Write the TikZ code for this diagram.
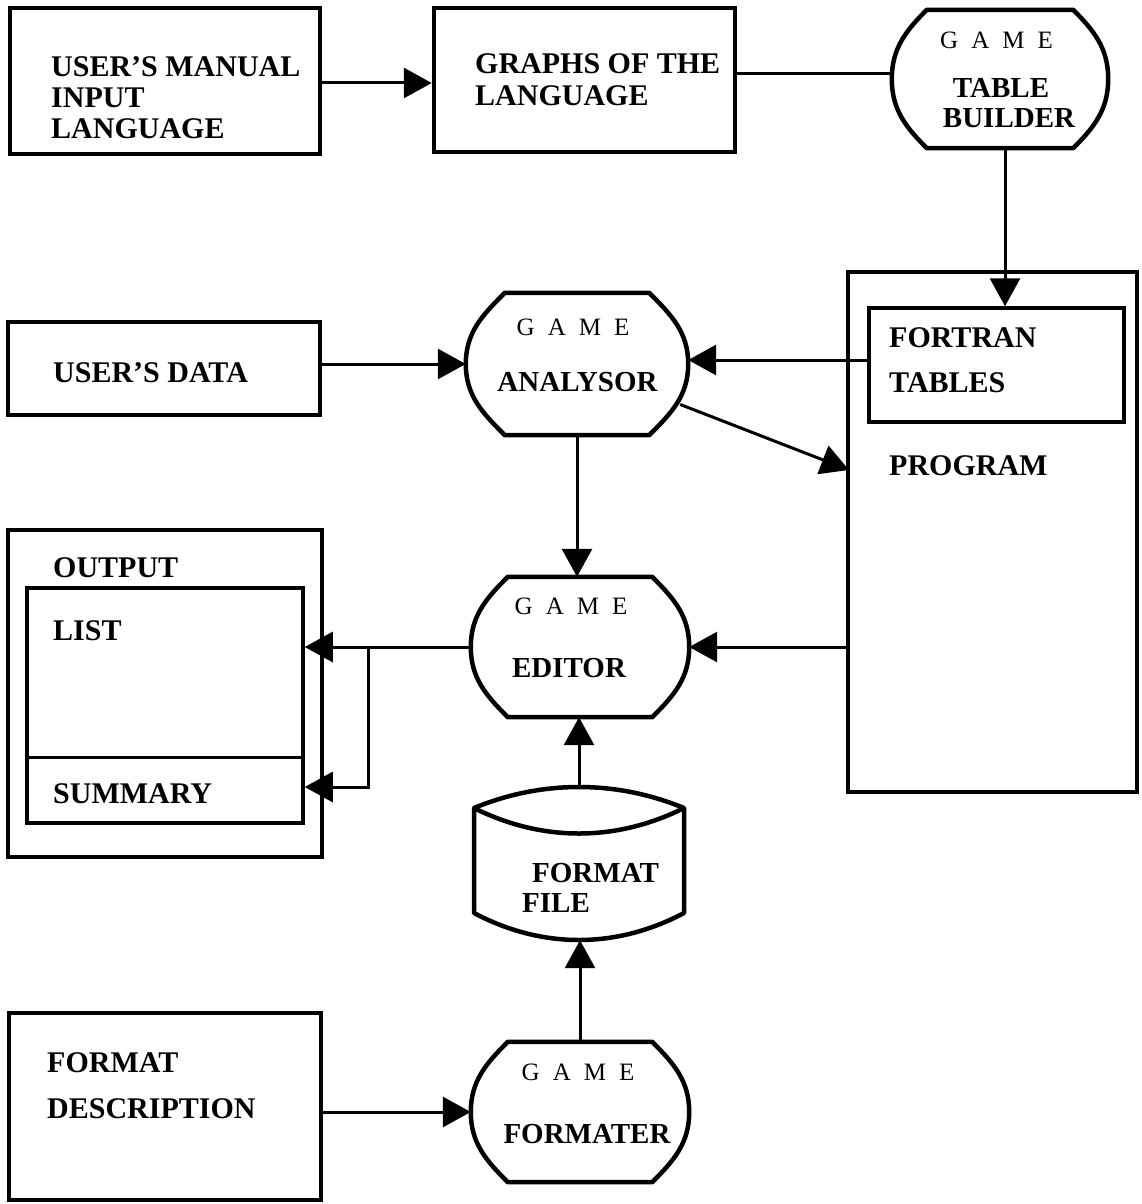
\documentclass[tikz,border=0pt]{standalone}
\usepackage{fontspec}
\setmainfont{Liberation Serif}
\usetikzlibrary{arrows.meta,calc}
\tikzset{
  boxnode/.style={draw, line width=4.5pt, inner sep=0pt},
  thinbox/.style={draw, line width=3.5pt, inner sep=0pt},
  ghost/.style={inner sep=0pt},
  lbl/.style={anchor=west, inner sep=0pt, font=\fontsize{30}{30}\selectfont\bfseries, text height=20pt, text depth=0pt},
  slbl/.style={anchor=center, inner sep=0pt, font=\fontsize{29}{29}\selectfont\bfseries, text height=19pt, text depth=0pt},
  gm/.style={anchor=center, inner sep=0pt, font=\fontsize{25}{25}\selectfont, text height=16.5pt, text depth=0pt},
  conn/.style={line width=3pt},
  arr/.style={line width=3pt, -{Triangle[length=28pt,width=30pt]}},
  outl/.style={line width=4.5pt, line join=round},
  thinline/.style={line width=3pt},
}
\newcommand\gameoutline[2]{%
  \draw[outl] ($(#1.north west)+(#2,0)$) -- ($(#1.north east)+(-#2,0)$)
    to[out=-45,in=90] (#1.east)
    to[out=-90,in=45] ($(#1.south east)+(-#2,0)$)
    -- ($(#1.south west)+(#2,0)$)
    to[out=135,in=-90] (#1.west)
    to[out=90,in=-135] ($(#1.north west)+(#2,0)$) -- cycle;}
\newcommand\gamespaced{G\hspace{13pt}A\hspace{13pt}M\hspace{13pt}E}
\begin{document}
\begin{tikzpicture}[x=1pt,y=1pt]
\useasboundingbox (0,0) rectangle (1141,-1204);

% ---- nodes ----
\node[boxnode, minimum width=310, minimum height=146] (b1) at (165,-81) {};
\node[boxnode, minimum width=301, minimum height=144] (b2) at (584.5,-80) {};
\node[ghost, minimum width=216, minimum height=138] (tb) at (1000,-79) {};
\node[boxnode, minimum width=312, minimum height=93] (ud) at (164,-368.5) {};
\node[ghost, minimum width=222, minimum height=142] (ana) at (577,-364) {};
\node[boxnode, minimum width=289, minimum height=520] (prog) at (992.5,-532) {};
\node[thinbox, minimum width=255, minimum height=114] (ft) at (996.5,-365) {};
\node[boxnode, minimum width=314, minimum height=327] (out) at (165,-693.5) {};
\node[thinbox, minimum width=276, minimum height=235] (inr) at (165,-705.5) {};
\node[ghost, minimum width=218, minimum height=140] (ed) at (580,-647) {};
\node[ghost, minimum width=210, minimum height=153] (cyl) at (579,-863.5) {};
\node[boxnode, minimum width=312, minimum height=187] (fd) at (165,-1106.5) {};
\node[ghost, minimum width=218, minimum height=140] (fmt) at (580,-1112) {};

% ---- shapes ----
\gameoutline{tb}{35}
\gameoutline{ana}{39}
\gameoutline{ed}{37}
\gameoutline{fmt}{37}
\draw[thinline] (inr.west |- 0,-757) -- (inr.east |- 0,-757);
\draw[outl] (474,-808) .. controls (542,-780) and (616,-780) .. (684,-808)
  -- (684,-913) .. controls (616,-949) and (542,-949) .. (474,-913) -- cycle;
\draw[outl] (474,-808) .. controls (542,-842) and (616,-842) .. (684,-808);

% ---- labels ----
\node[lbl] (t1a) at (51,-67) {USER'S MANUAL};
\node[lbl] (t1b) at (51,-98) {INPUT};
\node[lbl] (t1c) at (51,-129) {LANGUAGE};
\node[lbl] (t2a) at (475,-64) {GRAPHS OF THE};
\node[lbl] (t2b) at (475,-96) {LANGUAGE};
\node[gm] (g1) at (996.5,-40) {\gamespaced};
\node[slbl] (t3a) at (1001,-88) {TABLE};
\node[slbl] (t3b) at (1009,-118) {BUILDER};
\node[lbl] (t4) at (53,-372) {USER'S DATA};
\node[gm] (g2) at (573,-327) {\gamespaced};
\node[slbl] (t5) at (577.5,-382) {ANALYSOR};
\node[lbl] (t6a) at (889,-337) {FORTRAN};
\node[lbl] (t6b) at (889,-382) {TABLES};
\node[lbl] (t7) at (889,-465) {PROGRAM};
\node[lbl] (t8) at (53,-567) {OUTPUT};
\node[lbl] (t9) at (53,-630) {LIST};
\node[lbl] (t10) at (53,-793) {SUMMARY};
\node[gm] (g3) at (571,-606) {\gamespaced};
\node[slbl] (t11) at (569,-668) {EDITOR};
\node[slbl, anchor=west] (t12a) at (532,-873) {FORMAT};
\node[slbl, anchor=west] (t12b) at (522,-903) {FILE};
\node[lbl] (t13a) at (47,-1062) {FORMAT};
\node[lbl] (t13b) at (47,-1108) {DESCRIPTION};
\node[gm] (g4) at (578,-1072) {\gamespaced};
\node[slbl] (t14) at (587,-1134) {FORMATER};

% ---- connectors ----
\coordinate (pin) at (849,-470);
\coordinate (br) at (368,-647);
\coordinate (sumin) at (inr.east |- 0,-787);
\draw[arr] ([yshift=-2]b1.east) -- ([yshift=-2]b1.east -| b2.west);
\draw[conn] ([yshift=6]b2.east) -- ([yshift=6]b2.east -| tb.west);
\draw[arr] ([xshift=5]tb.south) -- ([xshift=5]tb.south |- ft.north);
\draw[arr] (ud.east |- ana.west) -- (ana.west);
\draw[arr] ([yshift=5]ft.west) -- ([yshift=5]ft.west -| ana.east);
\draw[arr] ($(ana.-20)+(-8,0)$) -- (pin);
\draw[arr] (ana.south) -- (ana.south |- ed.north);
\draw[arr] (prog.west |- ed.east) -- (ed.east);
\draw[arr] (ed.west) -- (ed.west -| inr.east);
\draw[arr] (br) |- (sumin);
\draw[arr] (cyl.north) -- (cyl.north |- ed.south);
\draw[arr] (fmt.north) -- (fmt.north |- cyl.south);
\draw[arr] (fd.east |- fmt.west) -- (fmt.west);
\end{tikzpicture}
\end{document}
